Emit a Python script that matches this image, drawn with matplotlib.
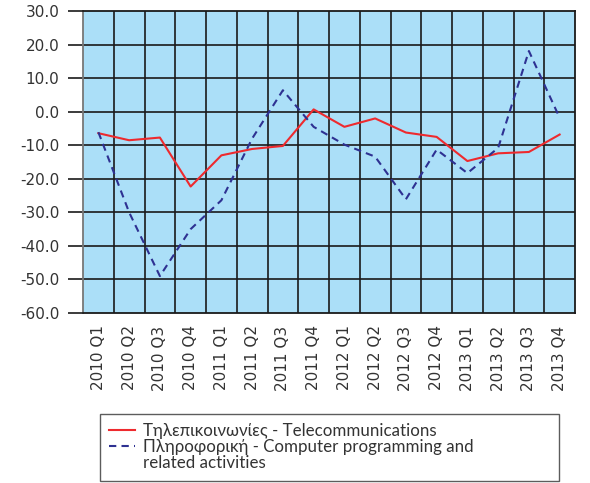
import matplotlib.pyplot as plt
from matplotlib.lines import Line2D
import numpy as np

quarters = ["2010 Q1", "2010 Q2", "2010 Q3", "2010 Q4",
            "2011 Q1", "2011 Q2", "2011 Q3", "2011 Q4",
            "2012 Q1", "2012 Q2", "2012 Q3", "2012 Q4",
            "2013 Q1", "2013 Q2", "2013 Q3", "2013 Q4"]

telecom = [-6.4, -8.5, -7.7, -22.3, -13.0, -11.1, -10.2, 0.7,
           -4.5, -2.0, -6.2, -7.5, -14.7, -12.4, -12.0, -6.8]

computer = [-6.1, -30.0, -49.0, -35.0, -26.4, -8.0, 6.4, -4.5,
            -9.8, -13.4, -26.1, -11.3, -18.3, -10.8, 18.1, -1.8]

legend_lines = ["Τηλεπικοινωνίες - Telecommunications",
                "Πληροφορική - Computer programming and",
                "related activities"]

yticks = np.arange(-60, 31, 10)

fig = plt.figure(figsize=(5.9, 4.83), dpi=100)
ax = fig.add_axes([0.1407, 0.352, 0.8339, 0.625])
ax.set_facecolor("#abdff8")

x = np.arange(len(quarters))
l1, = ax.plot(x, telecom, color="#ee2a2e", lw=1.5)
l2, = ax.plot(x, computer, color="#2e3192", lw=1.5, ls=(0, (3.5, 2.5)))

ax.set_xlim(-0.5, len(quarters) - 0.5)
ax.set_ylim(-60, 30)

# grid lines on category boundaries and y ticks
for b in np.arange(-0.5, len(quarters), 1.0)[1:-1]:
    ax.axvline(b, color="#1a1a1a", lw=1.2, zorder=1)
for v in yticks[1:-1]:
    ax.axhline(v, color="#1a1a1a", lw=1.2, zorder=1)

ax.set_xticks(x)
ax.set_xticklabels(quarters, rotation=90, fontsize=11, color="#333333")
ax.tick_params(axis="x", length=0, pad=9)
ax.set_yticks(yticks)
ax.set_yticklabels([f"{v:.1f}" for v in yticks], fontsize=11, color="#333333")
ax.tick_params(axis="y", length=11, width=1.2, color="#1a1a1a", pad=6)

for s in ["top", "right", "bottom"]:
    ax.spines[s].set_color("#1a1a1a")
    ax.spines[s].set_linewidth(1.3)
ax.spines["left"].set_color("#777777")
ax.spines["left"].set_linewidth(1.3)

# the wrapped second label gets its own row with an empty handle
blank = Line2D([], [], color="none")
leg = fig.legend([l1, l2, blank], legend_lines,
                 loc="upper left", mode="expand",
                 bbox_to_anchor=(100 / 590, 0, 459 / 590, 1 - 414 / 483),
                 frameon=True, fancybox=False, prop={"family": "Lato", "size": 12.2},
                 handlelength=1.5, handletextpad=0.5, borderpad=0.55,
                 labelspacing=0.0, borderaxespad=0)
leg.get_frame().set_edgecolor("#333333")
leg.get_frame().set_linewidth(1.0)
for t in leg.get_texts():
    t.set_color("#333333")

fig.savefig("out.png", dpi=100)
